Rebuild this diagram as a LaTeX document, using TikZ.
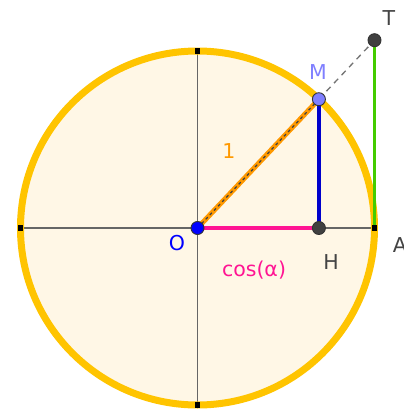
\documentclass[tikz,border=0pt]{standalone}
\usepackage{fontspec}
\setmainfont{DejaVu Sans}
\begin{document}
\begin{tikzpicture}[x=1pt,y=-1pt,
  lbl/.style={font=\fontsize{20.5}{22}\selectfont, inner sep=0pt},
  pt/.style={circle, draw=black!80, line width=0.9pt, minimum size=13pt, inner sep=0pt},
  sq/.style={rectangle, fill=black, minimum size=5.5pt, inner sep=0pt},
  axis/.style={draw=black!60, line width=1.5pt}]
\definecolor{gold}{RGB}{255,196,0}
\definecolor{cream}{RGB}{255,247,230}
\definecolor{dpink}{RGB}{255,20,147}
\definecolor{mblue}{RGB}{0,0,204}
\definecolor{lgreen}{RGB}{68,204,0}
\definecolor{orng}{RGB}{255,153,0}
\definecolor{mlbl}{RGB}{127,127,255}
\definecolor{glbl}{RGB}{68,68,68}
\useasboundingbox (0,0) rectangle (404,410);
\coordinate (O) at (197.5,228);
\coordinate (M) at (318.9,99.2);
\coordinate (H) at (318.9,228);
\coordinate (A) at (374.5,228);
\coordinate (T) at (374.5,40.2);
\coordinate (L) at (20.5,228);
\coordinate (Top) at (197.5,51);
\coordinate (Bot) at (197.5,405);
% disc
\fill[cream] (O) circle[radius=177];
% axes
\draw[axis] (L) -- (A);
\draw[axis] (Top) -- (Bot);
% circle
\draw[gold, line width=7pt] (O) circle[radius=177];
% tangent dashed
\draw[black!55, line width=1.3pt, dash pattern=on 6pt off 5pt] (M) -- (T);
% segments
\draw[dpink, line width=4.5pt] (O) -- (H);
\draw[mblue, line width=3.5pt] (H) -- (M);
\draw[lgreen, line width=3.5pt] (A) -- (T);
\draw[orng, line width=5pt] (O) -- (M);
\draw[black!75, line width=1.2pt, dash pattern=on 3pt off 3pt] (O) -- (M);
% axis end squares
\node[sq] (sqL) at (L) {};
\node[sq] (sqA) at (A) {};
\node[sq] (sqT) at (Top) {};
\node[sq] (sqB) at (Bot) {};
% points
\node[pt, fill=blue] (pO) at (O) {};
\node[pt, fill=black!75] (pH) at (H) {};
\node[pt, fill=black!75] (pT) at (T) {};
\node[pt, fill=mlbl] (pM) at (M) {};
% labels
\node[lbl, text=glbl] (lT) at (389,18) {T};
\node[lbl, text=mlbl] (lM) at (318,72) {M};
\node[lbl, text=orng] (l1) at (229,151) {1};
\node[lbl, text=blue] (lO) at (177,243) {O};
\node[lbl, text=glbl] (lH) at (331,262) {H};
\node[lbl, text=dpink] (lcos) at (254,270) {cos(α)};
\node[lbl, text=glbl] (lA) at (400,245) {A};
\end{tikzpicture}
\end{document}
